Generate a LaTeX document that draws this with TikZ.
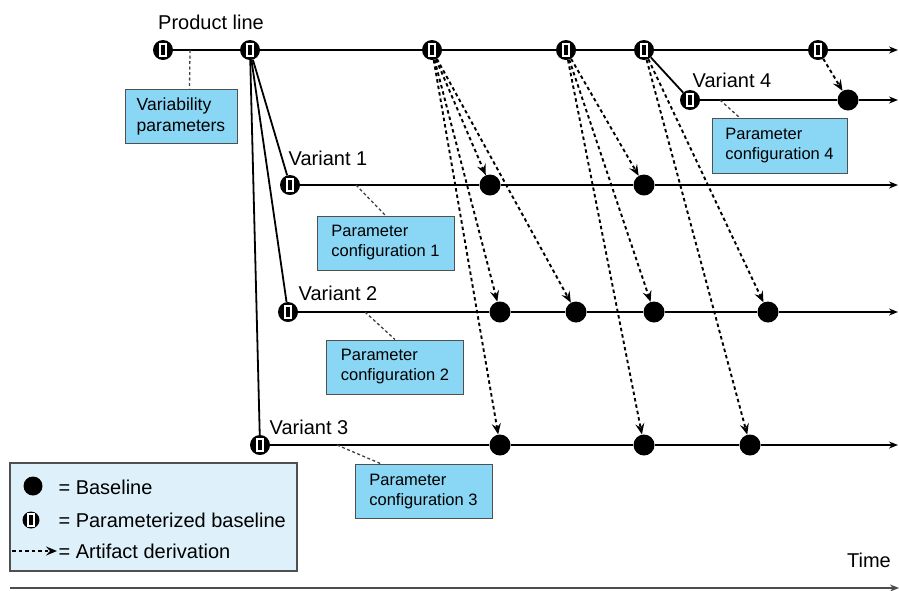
\documentclass[tikz,border=0pt]{standalone}
\usepackage{fontspec}
\setmainfont{Liberation Sans}
\usetikzlibrary{arrows.meta}
\definecolor{boxblue}{RGB}{138,214,245}
\definecolor{legendblue}{RGB}{222,241,251}
\definecolor{boxline}{RGB}{80,80,80}

\begin{document}
\begin{tikzpicture}[x=1pt, y=-1pt, font=\fontsize{20}{23}\selectfont]
        % Define styles
    \tikzset{
        base/.style={circle, fill=black, minimum size=21pt, inner sep=0pt},
        pbase/.style={circle, fill=black, minimum size=20pt, inner sep=0pt,
            path picture={\draw[white, line width=1.2pt]
                ([xshift=-3pt, yshift=-6pt]path picture bounding box.center) rectangle
                ([xshift=3pt, yshift=6pt]path picture bounding box.center);}},
        cfgbox/.style={rectangle, draw=boxline, line width=1pt, fill=boxblue, minimum width=137pt,
            minimum height=54pt, align=left, font=\fontsize{16.5}{20}\selectfont},
        link/.style={line width=1.8pt},
        tline/.style={-{Stealth[length=9pt, width=7pt]}, line width=1.8pt},
        derive/.style={-{Stealth[length=11pt, width=9pt, inset=4pt]}, line width=1.9pt, dash pattern=on 3.5pt off 3pt},
        cfgline/.style={line width=1.3pt, dash pattern=on 3pt off 2.5pt, draw=black!75},
    }
    \useasboundingbox (0,0) rectangle (899,590);

    % Product line
    \node (pllbl) at (211,22) {Product line};
    \node[pbase] (pl1) at (163,50) {};
    \node[pbase] (pl2) at (250,50) {};
    \node[pbase] (pl3) at (432,50) {};
    \node[pbase] (pl4) at (566,50) {};
    \node[pbase] (pl5) at (644,50) {};
    \node[pbase] (pl6) at (818,50) {};
    \coordinate (plend) at (898,50);
    \foreach \a/\b in {pl1/pl2, pl2/pl3, pl3/pl4, pl4/pl5, pl5/pl6}
        \draw[link] (\a) -- (\b);
    \draw[tline] (pl6) -- (plend);

    \node[cfgbox, minimum width=112pt, minimum height=54pt, font=\fontsize{17.5}{21}\selectfont] (varpar) at (181,116) {Variability\\parameters};
    \coordinate (varpt) at (190,50);
    \draw[cfgline] (varpt) -- ([xshift=65pt]varpar.north west);

    % Variant 4
    \node (v4lbl) at (732,80) {Variant 4};
    \node[pbase] (v4s) at (690,100) {};
    \node[base] (b41) at (848,100) {};
    \coordinate (v4end) at (898,100);
    \draw[link] (pl5) -- (v4s);
    \draw[link] (v4s) -- (b41);
    \draw[tline] (b41) -- (v4end);
    \node[cfgbox, minimum width=135pt, minimum height=55pt] (cfg4) at (779.5,145.5) {Parameter\\configuration 4};
    \coordinate (v4pt) at (720,100);
    \draw[cfgline] (v4pt) -- ([xshift=28pt]cfg4.north west);

    % Variant 1
    \node (v1lbl) at (328,158) {Variant 1};
    \node[pbase] (v1s) at (290,185) {};
    \node[base] (b11) at (490,185) {};
    \node[base] (b12) at (644,185) {};
    \coordinate (v1end) at (898,185);
    \draw[link] (v1s) -- (b11);
    \draw[link] (b11) -- (b12);
    \draw[tline] (b12) -- (v1end);
    \node[cfgbox] (cfg1) at (385.5,243) {Parameter\\configuration 1};
    \coordinate (v1pt) at (356,185);
    \draw[cfgline] (v1pt) -- (cfg1.north);

    % Variant 2
    \node (v2lbl) at (338,293) {Variant 2};
    \node[pbase] (v2s) at (288,312) {};
    \node[base] (b21) at (500,312) {};
    \node[base] (b22) at (576,312) {};
    \node[base] (b23) at (654,312) {};
    \node[base] (b24) at (768,312) {};
    \coordinate (v2end) at (898,312);
    \foreach \a/\b in {v2s/b21, b21/b22, b22/b23, b23/b24}
        \draw[link] (\a) -- (\b);
    \draw[tline] (b24) -- (v2end);
    \node[cfgbox] (cfg2) at (395,367) {Parameter\\configuration 2};
    \coordinate (v2pt) at (365,312);
    \draw[cfgline] (v2pt) -- (cfg2.north);

    % Variant 3
    \node (v3lbl) at (309,427) {Variant 3};
    \node[pbase] (v3s) at (260,445) {};
    \node[base] (b31) at (500,445) {};
    \node[base] (b32) at (644,445) {};
    \node[base] (b33) at (750,445) {};
    \coordinate (v3end) at (898,445);
    \foreach \a/\b in {v3s/b31, b31/b32, b32/b33}
        \draw[link] (\a) -- (\b);
    \draw[tline] (b33) -- (v3end);
    \node[cfgbox] (cfg3) at (423.5,491.5) {Parameter\\configuration 3};
    \coordinate (v3pt) at (337,445);
    \draw[cfgline] (v3pt) -- ([xshift=27pt]cfg3.north west);

    % Branches off the product line
    \foreach \t in {v1s, v2s, v3s}
        \draw[link] (pl2) -- (\t);

    % Artifact derivations
    \foreach \s/\t in {pl3/b11, pl3/b21, pl3/b22, pl3/b31, pl4/b12, pl4/b23, pl4/b32, pl5/b24, pl5/b33, pl6/b41}
        \draw[derive] (\s) -- (\t);

    % Legend
    \node[rectangle, draw=boxline, line width=1.2pt, fill=legendblue, minimum width=287pt, minimum height=108pt] (legend) at (153.5,517) {};
    \node[base, minimum size=19pt] (lgbase) at (33,486) {};
    \node[anchor=west] (lgbasetxt) at (55,487) {= Baseline};
    \node[pbase, minimum size=17pt] (lgpbase) at (31,520) {};
    \node[anchor=west] (lgpbasetxt) at (55,520) {= Parameterized baseline};
    \coordinate (lga) at (12,551);
    \coordinate (lgb) at (57,551);
    \draw[derive] (lga) -- (lgb);
    \node[anchor=west] (lgderivetxt) at (55,551) {= Artifact derivation};

    % Time axis
    \node (timelbl) at (869,560) {Time};
    \coordinate (t0) at (10,588);
    \coordinate (t1) at (899,588);
    \draw[tline, draw=black!70] (t0) -- (t1);
\end{tikzpicture}
\end{document}
